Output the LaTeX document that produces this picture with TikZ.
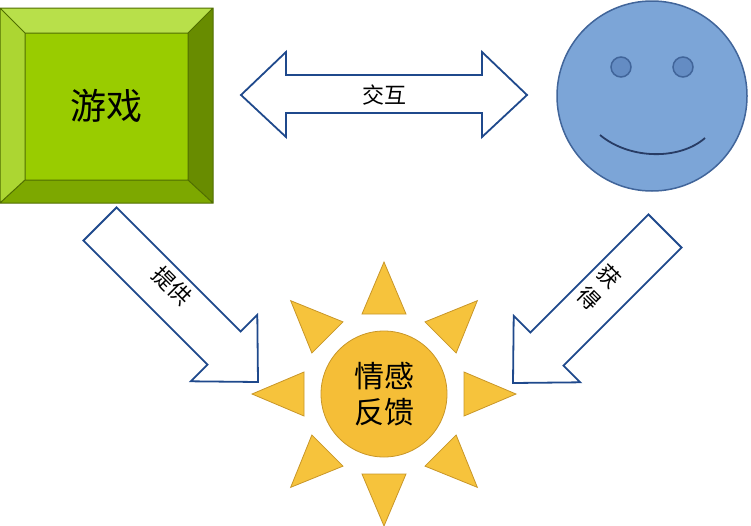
\documentclass[tikz,border=0pt]{standalone}
\usepackage{fontspec}
\setmainfont{Noto Sans CJK SC}
\usetikzlibrary{calc}
\definecolor{arrc}{RGB}{31,73,140}
\definecolor{rayf}{RGB}{246,195,60}
\definecolor{rayd}{RGB}{200,150,40}
\begin{document}
\begin{tikzpicture}[x=1pt,y=-1pt,
  arr/.style={draw=arrc,fill=white,line width=1.8pt,line join=miter},
  ray/.style={draw=rayd,fill=rayf,line width=0.8pt},
  lbl/.style={font=\fontsize{22}{22}\selectfont,inner sep=0pt}]
\useasboundingbox (0,0) rectangle (751,525);
% bevel box
\fill[color={rgb,255:red,153;green,204;blue,0}] (25,33) rectangle (188,180);
\fill[color={rgb,255:red,184;green,224;blue,74}] (0,8) -- (213,8) -- (188,33) -- (25,33) -- cycle;
\fill[color={rgb,255:red,172;green,214;blue,50}] (0,8) -- (25,33) -- (25,180) -- (0,203) -- cycle;
\fill[color={rgb,255:red,104;green,140;blue,0}] (213,8) -- (188,33) -- (188,180) -- (213,203) -- cycle;
\fill[color={rgb,255:red,125;green,168;blue,0}] (0,203) -- (25,180) -- (188,180) -- (213,203) -- cycle;
\draw[color={rgb,255:red,80;green,110;blue,0},line width=1pt] (0,8) rectangle (213,203) (25,33) rectangle (188,180)
 (0,8)--(25,33) (213,8)--(188,33) (0,203)--(25,180) (213,203)--(188,180);
\node[font=\fontsize{36}{36}\selectfont] (game) at (106,106) {游戏};
% smiley
\node[circle,minimum size=190pt,draw={rgb,255:red,65;green,101;blue,154},line width=1.5pt,fill={rgb,255:red,124;green,165;blue,215}] (face) at (652,96) {};
\draw[draw={rgb,255:red,65;green,101;blue,154},line width=1.5pt,fill={rgb,255:red,100;green,140;blue,195}] (621,67) circle (10) (683,67) circle (10);
\draw[draw={rgb,255:red,40;green,60;blue,100},line width=1.8pt] (600,135) .. controls (630,160) and (680,160) .. (705,138);
% double arrow
\draw[arr] (241,95) -- (286,52) -- (286,75) -- (482,75) -- (482,52) -- (527,95) -- (482,137) -- (482,113) -- (286,113) -- (286,137) -- cycle;
\node[lbl] (jh) at (384,95) {交互};
% left arrow
\draw[arr] (83.4,240.6) -- (207.5,364.7) -- (190.9,381.3) -- (258,382) -- (257.3,314.9) -- (240.7,331.5) -- (116.6,207.4) -- cycle;
\node[lbl,rotate=-45] (tg) at (172,286) {提供};
% right arrow
\draw[arr] (648.4,214.4) -- (530.3,332.5) -- (513.7,315.9) -- (513,383) -- (580.1,382.3) -- (563.5,365.7) -- (681.6,247.6) -- cycle;
\node[lbl,rotate=-45] (h1) at (609,276) {获};
\node[lbl,rotate=-45] (h2) at (589,298) {得};
% sun
\coordinate (c) at (384,394);
\foreach \a in {0,45,...,315}{
  \draw[ray] ($(c)+(\a:132)$) -- ($(c)+(\a:80)+(\a+90:22)$) -- ($(c)+(\a:80)+(\a-90:22)$) -- cycle;
}
\node[circle,minimum size=126pt,ray,fill={rgb,255:red,245;green,190;blue,55},align=center,font=\fontsize{30}{36}\selectfont,inner sep=0pt] (sun) at (c) {情感\\反馈};
\end{tikzpicture}
\end{document}
